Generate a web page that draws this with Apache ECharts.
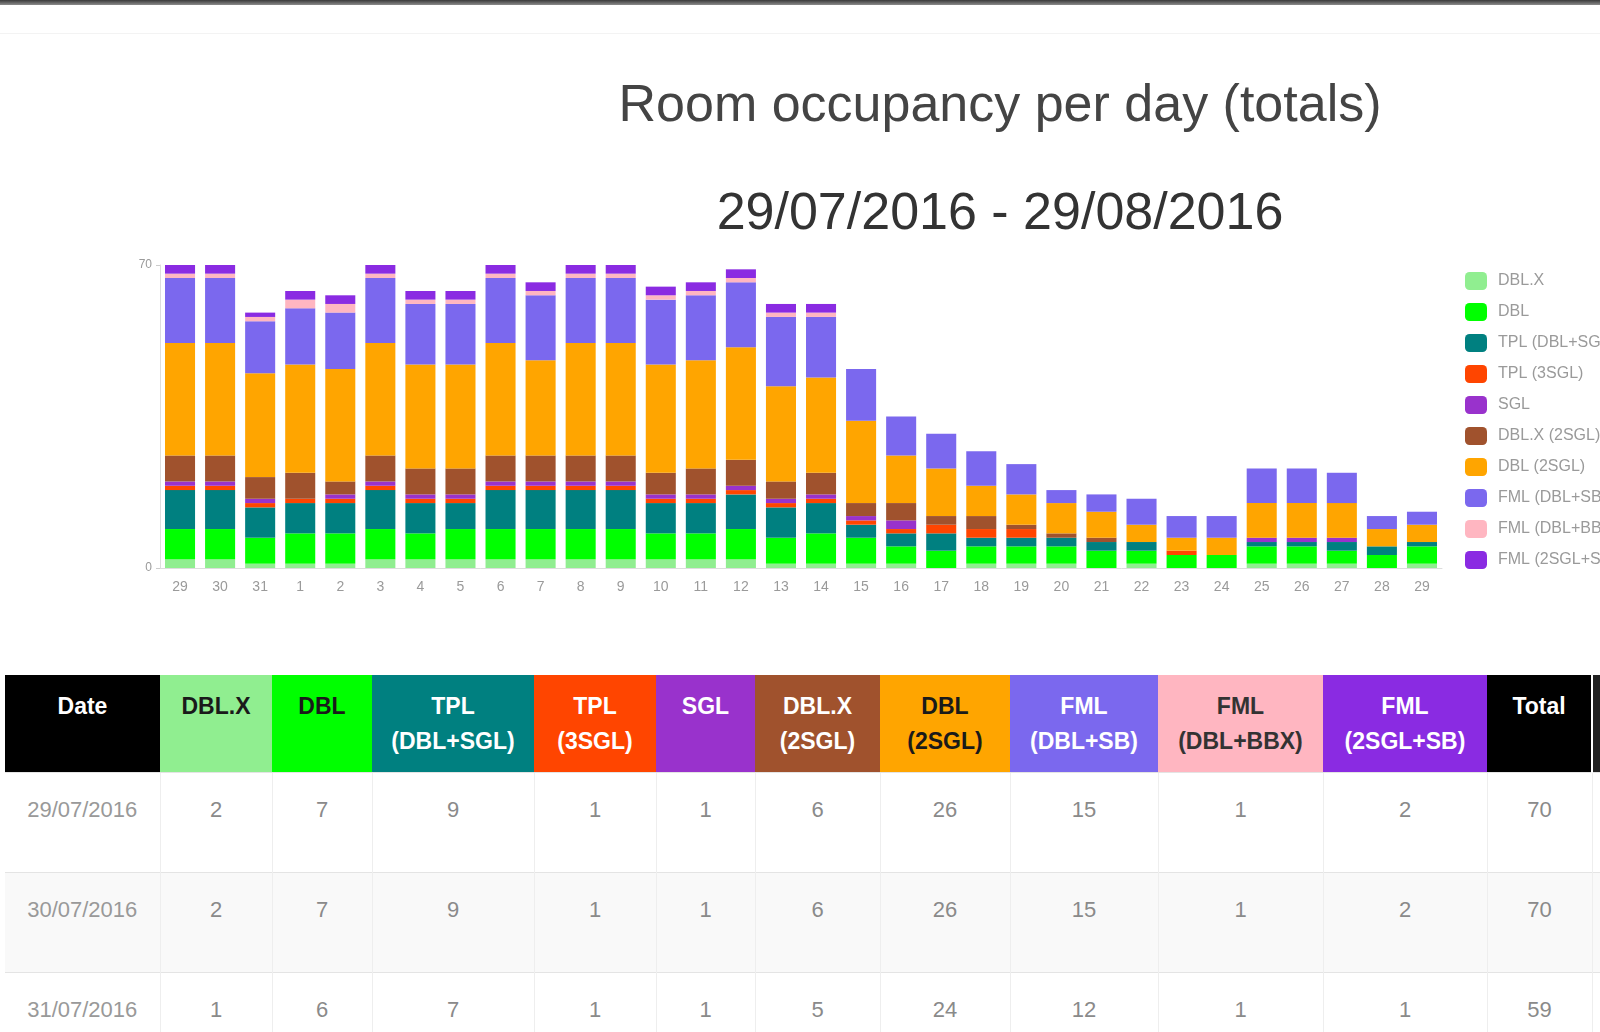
<!DOCTYPE html>
<html>
<head>
<meta charset="utf-8">
<script src="https://cdn.jsdelivr.net/npm/echarts@6/dist/echarts.min.js"></script>
<style>
html,body{margin:0;padding:0;background:#fff;width:1600px;height:1032px;overflow:hidden;font-family:"Liberation Sans",Arial,Helvetica,sans-serif;}
#topbar{position:absolute;left:0;top:0;width:1600px;height:5px;background:linear-gradient(#3a3a3a,#8c8c8c);}
#faint{position:absolute;left:0;top:33px;width:1600px;height:1px;background:#f3f3f3;}
#chart{position:absolute;left:0;top:0;width:1600px;height:640px;}
#tbl{position:absolute;left:5px;top:675px;border-collapse:collapse;table-layout:fixed;}
#tbl th{height:97px;box-sizing:border-box;padding:14px 2px 0;vertical-align:top;font-weight:bold;font-size:23px;line-height:35px;text-align:center;white-space:nowrap;overflow:hidden;}
#tbl td{height:100px;box-sizing:border-box;padding:24px 2px 0;vertical-align:top;font-size:22px;line-height:26px;text-align:center;color:#8a8a8a;border-left:1px solid #eeeeee;border-top:1px solid #e4e4e4;white-space:nowrap;overflow:hidden;}
#tbl tr.alt td{background:#f9f9f9;}
</style>
</head>
<body>
<div id="topbar"></div>
<div id="faint"></div>
<div id="chart"></div>
<table id="tbl"></table>
<script>
// ---- data ----
const dayLabels = ['29','30','31','1','2','3','4','5','6','7','8','9','10','11','12','13','14','15','16','17','18','19','20','21','22','23','24','25','26','27','28','29'];
const tableDates = ['29/07/2016','30/07/2016','31/07/2016'];
const seriesNames = ['DBL.X','DBL','TPL (DBL+SGL)','TPL (3SGL)','SGL','DBL.X (2SGL)','DBL (2SGL)','FML (DBL+SB)','FML (DBL+BBX)','FML (2SGL+SB)'];
const headerLabels = ['DBL.X','DBL','TPL<br>(DBL+SGL)','TPL<br>(3SGL)','SGL','DBL.X<br>(2SGL)','DBL<br>(2SGL)','FML<br>(DBL+SB)','FML<br>(DBL+BBX)','FML<br>(2SGL+SB)'];
const seriesColors = ['#90ee90','#00ff00','#008080','#ff4500','#9932cc','#a0522d','#ffa500','#7b68ee','#ffb6c1','#8a2be2'];
const headerTextColors = ['#1a1a1a','#1a1a1a','#fff','#fff','#fff','#fff','#1a1a1a','#fff','#333','#fff'];

const dblX      = [2,2,1,1,1,2,2,2,2,2,2,2,2,2,2,1,1,1,1,0,1,1,1,0,1,0,0,1,1,1,0,1];
const dbl       = [7,7,6,7,7,7,6,7,7,7,7,7,6,6,7,6,7,6,4,4,4,4,4,4,3,3,3,4,4,3,3,4];
const tplDblSgl = [9,9,7,7,7,9,7,6,9,9,9,9,7,7,8,7,7,3,3,4,2,2,2,2,2,0,0,1,1,2,2,1];
const tpl3Sgl   = [1,1,1,1,1,1,1,1,1,1,1,1,1,1,1,1,1,1,1,2,2,2,0,0,0,1,0,0,0,0,0,0];
const sgl       = [1,1,1,0,1,1,1,1,1,1,1,1,1,1,1,1,1,1,2,0,0,0,0,0,0,0,0,1,1,1,0,0];
const dblX2Sgl  = [6,6,5,6,3,6,6,6,6,6,6,6,5,6,6,4,5,3,4,2,3,1,1,1,0,0,0,0,0,0,0,0];
const dbl2Sgl   = [26,26,24,25,26,26,24,24,26,22,26,26,25,25,26,22,22,19,11,11,7,7,7,6,4,3,4,8,8,8,4,4];
const fmlDblSb  = [15,15,12,13,13,15,14,14,15,15,15,15,15,15,15,16,14,12,9,8,8,7,3,4,6,5,5,8,8,7,3,3];
const fmlDblBbx = [1,1,1,2,2,1,1,1,1,1,1,1,1,1,1,1,1,0,0,0,0,0,0,0,0,0,0,0,0,0,0,0];
const fml2SglSb = [2,2,1,2,2,2,2,2,2,2,2,2,2,2,2,2,2,0,0,0,0,0,0,0,0,0,0,0,0,0,0,0];
const yTicks = [0,70];

const allSeries = [dblX,dbl,tplDblSgl,tpl3Sgl,sgl,dblX2Sgl,dbl2Sgl,fmlDblSb,fmlDblBbx,fml2SglSb];

// ---- chart ----
const chart = echarts.init(document.getElementById('chart'), null, {renderer:'canvas'});
const FONT = '"Liberation Sans", Arial, Helvetica, sans-serif';
chart.setOption({
  animation:false,
  backgroundColor:'transparent',
  title:[
    {text:'Room occupancy per day (totals)', left:995, top:76, textAlign:'center',
     textStyle:{fontSize:52, fontWeight:'normal', color:'#444', fontFamily:FONT}},
    {text:'29/07/2016 - 29/08/2016', left:995, top:184, textAlign:'center',
     textStyle:{fontSize:52, fontWeight:'normal', color:'#333', fontFamily:FONT}}
  ],
  legend:{
    orient:'vertical', left:1460, top:267, itemWidth:22, itemHeight:18, itemGap:13,
    icon:'roundRect',
    textStyle:{fontSize:16, color:'#9a9a9a', fontFamily:FONT, padding:[0,0,0,6]},
    data:seriesNames
  },
  grid:{left:160, right:158, top:265, bottom:72, containLabel:false},
  xAxis:{
    type:'category', data:dayLabels,
    axisLine:{show:true, lineStyle:{color:'#dddddd'}},
    axisTick:{show:false},
    axisLabel:{color:'#9a9a9a', fontSize:14, margin:12, fontFamily:FONT, interval:0}
  },
  yAxis:{
    type:'value', min:yTicks[0], max:yTicks[1], interval:yTicks[1]-yTicks[0],
    axisLine:{show:true, lineStyle:{color:'#dddddd'}},
    axisTick:{show:true, length:4, lineStyle:{color:'#cccccc'}},
    splitLine:{show:false},
    axisLabel:{color:'#9a9a9a', fontSize:12, margin:8, fontFamily:FONT}
  },
  series: seriesNames.map((n,i)=>({
    name:n, type:'bar', stack:'total', data:allSeries[i],
    barCategoryGap:'25%',
    itemStyle:{color:seriesColors[i]}
  }))
});

// ---- table ----
const colWidths = [155,112,100,162,122,99,125,130,148,165,164,105,20];
const tbl = document.getElementById('tbl');
let html = '<colgroup>' + colWidths.map(w=>'<col style="width:'+w+'px">').join('') + '</colgroup>';
html += '<tr><th style="background:#000;color:#fff">Date</th>';
headerLabels.forEach((h,i)=>{
  html += '<th style="background:'+seriesColors[i]+';color:'+headerTextColors[i]+'">'+h+'</th>';
});
html += '<th style="background:#000;color:#fff">Total</th><th style="background:#222;border-left:2px solid #fff"></th></tr>';
tableDates.forEach((d,r)=>{
  let total = 0;
  html += '<tr'+(r%2===1?' class="alt"':'')+'><td style="border-left:none;color:#999">'+d+'</td>';
  allSeries.forEach(s=>{ total += s[r]; html += '<td>'+s[r]+'</td>'; });
  html += '<td>'+total+'</td><td></td></tr>';
});
tbl.innerHTML = html;
tbl.style.width = colWidths.reduce((a,b)=>a+b,0)+'px';
</script>
</body>
</html>
